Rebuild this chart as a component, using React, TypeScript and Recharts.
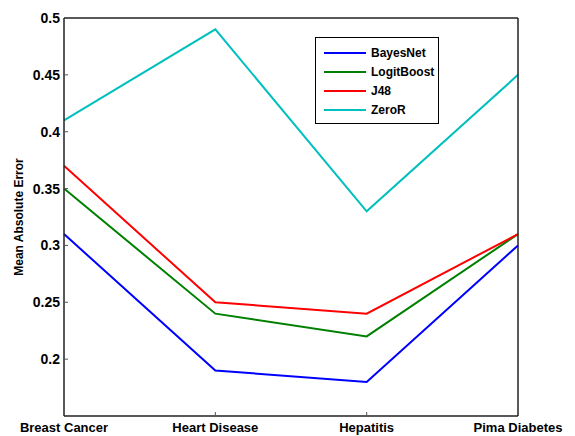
import { LineChart, Line, XAxis, YAxis } from 'recharts';

const datasets = ['Breast Cancer', 'Heart Disease', 'Hepatitis', 'Pima Diabetes'];
const bayesNet = [0.31, 0.19, 0.18, 0.3];
const logitBoost = [0.35, 0.24, 0.22, 0.31];
const j48 = [0.37, 0.25, 0.24, 0.31];
const zeroR = [0.41, 0.49, 0.33, 0.45];
const yTicks = [0.2, 0.25, 0.3, 0.35, 0.4, 0.45, 0.5];

const series = [
  { key: 'BayesNet', color: '#0000ff' },
  { key: 'LogitBoost', color: '#008000' },
  { key: 'J48', color: '#ff0000' },
  { key: 'ZeroR', color: '#00bfbf' },
];

const data = datasets.map((name, i) => ({
  name,
  BayesNet: bayesNet[i],
  LogitBoost: logitBoost[i],
  J48: j48[i],
  ZeroR: zeroR[i],
}));

const font = '"Liberation Sans", Arial, sans-serif';

// x ticks: inward tick mark + label below the axis
const XTick = (props: any) => {
  const { x, y, payload, index } = props;
  const showLine = index > 0 && index < datasets.length - 1;
  return (
    <g>
      {showLine && <line x1={x} x2={x} y1={y} y2={y - 4} stroke="#555" strokeWidth={1} />}
      <text x={x} y={y + 16} textAnchor="middle" fontFamily={font} fontWeight="bold" fontSize={13} fill="#000">
        {payload.value}
      </text>
    </g>
  );
};

const YTick = (props: any) => {
  const { x, y, payload } = props;
  return (
    <g>
      <line x1={x} x2={x + 4} y1={y} y2={y} stroke="#555" strokeWidth={1} />
      <text x={x - 4} y={y + 5} textAnchor="end" fontFamily={font} fontWeight="bold" fontSize={14} fill="#000">
        {payload.value}
      </text>
    </g>
  );
};

const LegendBox = () => (
  <div
    style={{
      position: 'absolute',
      left: 315,
      top: 37,
      border: '1.5px solid #000',
      background: '#fff',
      width: 122,
      padding: '5px 0 4px 0',
      fontFamily: font,
      fontWeight: 'bold',
      fontSize: 12,
    }}
  >
    {series.map((s) => (
      <div key={s.key} style={{ display: 'flex', alignItems: 'center', height: 19 }}>
        <div style={{ width: 42, height: 2, background: s.color, marginLeft: 8, marginRight: 5 }} />
        <span>{s.key}</span>
      </div>
    ))}
  </div>
);

export default function App() {
  return (
    <div style={{ position: 'absolute', left: 0, top: 0, width: 575, height: 436, background: '#fff' }}>
      <LineChart width={575} height={436} data={data} margin={{ top: 17, right: 56, bottom: 0, left: 0 }}>
        <XAxis
          dataKey="name"
          xAxisId="bottom"
          height={20}
          tickLine={false}
          tickSize={0}
          tickMargin={0}
          tick={<XTick />}
          axisLine={{ stroke: '#222', strokeWidth: 1.5 }}
          interval={0}
        />
        <XAxis dataKey="name" xAxisId="top" orientation="top" height={1} tick={false} tickLine={false} axisLine={{ stroke: '#222', strokeWidth: 1.5 }} />
        <YAxis
          yAxisId="left"
          width={64}
          domain={[0.15, 0.5]}
          ticks={yTicks}
          tickLine={false}
          tickSize={0}
          tickMargin={0}
          tick={<YTick />}
          axisLine={{ stroke: '#222', strokeWidth: 1.5 }}
          label={{
            value: 'Mean Absolute Error',
            angle: -90,
            position: 'insideLeft',
            dx: 14,
            style: { fontFamily: font, fontWeight: 'bold', fontSize: 12, fill: '#000', textAnchor: 'middle' },
          }}
        />
        <YAxis yAxisId="right" orientation="right" width={1} domain={[0.15, 0.5]} tick={false} tickLine={false} axisLine={{ stroke: '#222', strokeWidth: 1.5 }} />
        {series.map((s) => (
          <Line
            key={s.key}
            xAxisId="bottom"
            yAxisId="left"
            type="linear"
            dataKey={s.key}
            stroke={s.color}
            strokeWidth={2}
            dot={false}
            isAnimationActive={false}
          />
        ))}
      </LineChart>
      <LegendBox />
    </div>
  );
}
